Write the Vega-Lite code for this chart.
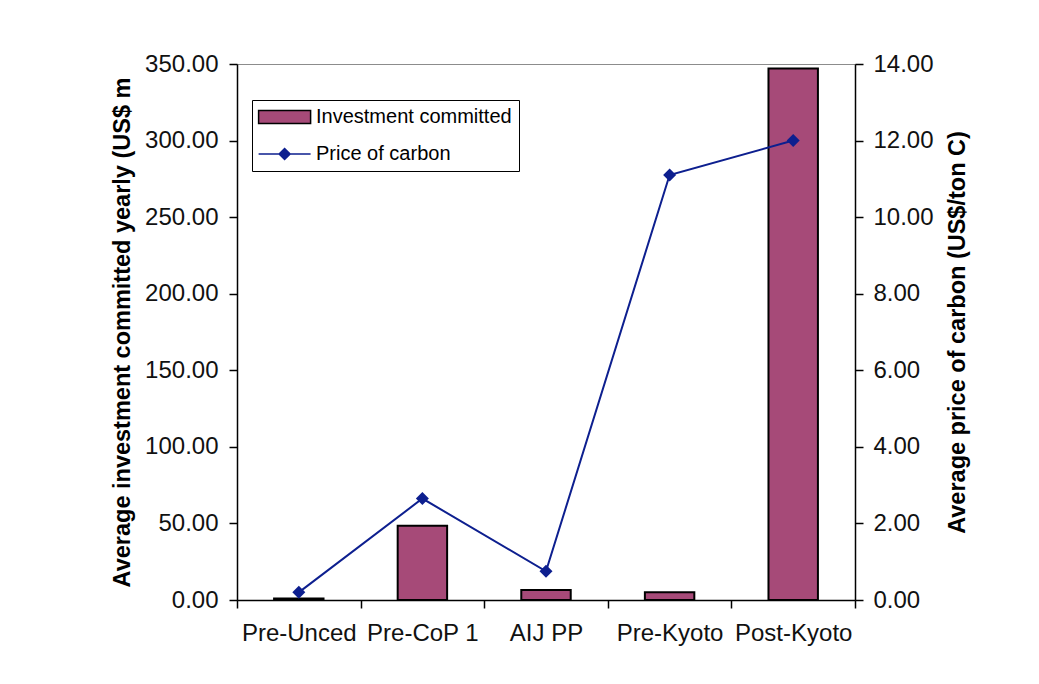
{
  "$schema": "https://vega.github.io/schema/vega-lite/v6.json",
  "width": 618,
  "height": 536,
  "autosize": {"type": "none"},
  "padding": {"left": 237, "top": 64, "right": 184, "bottom": 84},
  "background": "white",
  "config": {
    "font": "Liberation Sans",
    "view": {"fill": "#cbcbcb", "stroke": "#8c8c8c", "strokeWidth": 1},
    "axis": {
      "domainColor": "black",
      "domainWidth": 1.5,
      "tickColor": "black",
      "tickWidth": 1.5,
      "tickSize": 8,
      "labelColor": "#111111",
      "labelFont": "Liberation Sans",
      "labelFontSize": 24,
      "titleFont": "Liberation Sans",
      "titleFontWeight": "bold",
      "titleFontSize": 23.5,
      "titleColor": "black",
      "grid": false
    },
    "legend": {
      "orient": "none",
      "legendX": 15,
      "legendY": 36,
      "fillColor": "white",
      "strokeColor": "black",
      "padding": 7,
      "labelFontSize": 20,
      "labelColor": "black",
      "labelFont": "Liberation Sans",
      "labelLimit": 400,
      "symbolSize": 169,
      "symbolOpacity": 1,
      "symbolStrokeWidth": 1.5,
      "labelOffset": 37,
      "rowPadding": 17
    }
  },
  "datasets": {
    "main": [
      {"period": "Pre-Unced", "investment": 1.0, "price": 0.2},
      {"period": "Pre-CoP 1", "investment": 48.5, "price": 2.65},
      {"period": "AIJ PP", "investment": 6.5, "price": 0.75},
      {"period": "Pre-Kyoto", "investment": 5.0, "price": 11.1},
      {"period": "Post-Kyoto", "investment": 347.0, "price": 12.0}
    ],
    "series": [
      {"series": "Investment committed"},
      {"series": "Price of carbon"}
    ]
  },
  "layer": [
    {
      "data": {"name": "main"},
      "mark": {"type": "bar", "fill": "#a64a78", "stroke": "black", "strokeWidth": 2, "width": {"band": 0.4}},
      "encoding": {
        "x": {
          "field": "period",
          "type": "nominal",
          "sort": null,
          "scale": {"paddingInner": 0, "paddingOuter": 0},
          "axis": {
            "title": null,
            "labelAngle": 0,
            "tickBand": "extent",
            "labelPadding": 13,
            "labelBaseline": "top"
          }
        },
        "y": {
          "field": "investment",
          "type": "quantitative",
          "scale": {"domain": [0, 350], "nice": false},
          "axis": {
            "orient": "left",
            "values": [0, 50, 100, 150, 200, 250, 300, 350],
            "format": ".2f",
            "labelPadding": 11,
            "title": "Average investment committed yearly (US$ m",
            "titlePadding": 10
          }
        }
      }
    },
    {
      "data": {"name": "main"},
      "mark": {
        "type": "line",
        "color": "#0d1f8f",
        "strokeWidth": 2,
        "point": {"shape": "diamond", "size": 169, "filled": true, "opacity": 1, "color": "#0d1f8f"}
      },
      "encoding": {
        "x": {"field": "period", "type": "nominal", "sort": null},
        "y": {
          "field": "price",
          "type": "quantitative",
          "scale": {"domain": [0, 14], "nice": false},
          "axis": {
            "orient": "right",
            "values": [0, 2, 4, 6, 8, 10, 12, 14],
            "format": ".2f",
            "labelPadding": 10,
            "title": "Average price of carbon (US$/ton C)",
            "titleAngle": 270,
            "titlePadding": 36
          }
        }
      }
    },
    {
      "data": {"name": "series"},
      "mark": {"type": "point", "filled": true, "opacity": 0},
      "encoding": {
        "color": {
          "field": "series",
          "type": "nominal",
          "scale": {
            "domain": ["Investment committed", "Price of carbon"],
            "range": ["#a64a78", "#0d1f8f"]
          },
          "legend": {"title": null}
        },
        "stroke": {
          "field": "series",
          "type": "nominal",
          "scale": {
            "domain": ["Investment committed", "Price of carbon"],
            "range": ["black", "#0d1f8f"]
          },
          "legend": {"title": null}
        },
        "shape": {
          "field": "series",
          "type": "nominal",
          "scale": {
            "domain": ["Investment committed", "Price of carbon"],
            "range": ["M-1.6,-1H6.4V1H-1.6Z", "M-1.6,0H6.4M2.4,-0.85L3.25,0L2.4,0.85L1.55,0Z"]
          },
          "legend": {"title": null}
        }
      }
    }
  ],
  "resolve": {"scale": {"y": "independent"}}
}
